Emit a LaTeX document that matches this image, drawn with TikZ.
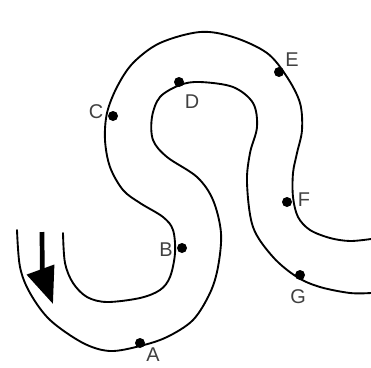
\documentclass[tikz,border=0pt]{standalone}
\usepackage{fontspec}
\setmainfont{Liberation Sans}
\usetikzlibrary{arrows.meta}

\begin{document}
\begin{tikzpicture}[x=0.03cm,y=-0.03cm,
  bank/.style={line width=1.6pt,line cap=round},
  stn/.style={circle,fill=black,inner sep=0pt,minimum size=0.3cm},
  lbl/.style={font=\fontsize{17}{19}\selectfont,text=black!75,inner sep=0pt}]
  \useasboundingbox (0,0) rectangle (371,367);

  % river banks
  \draw[bank] plot[smooth,tension=0.55] coordinates {(17,230) (20,267) (30,293) (50,320) (83,343) (110,351) (140,346) (167,337) (193,320) (210,293) (218,267) (221,233) (213,200) (197,177) (167,157) (153,140) (152,117) (160,97) (180,85) (200,82) (233,87) (253,103) (257,127) (250,153) (247,183) (253,227) (273,257) (297,277) (320,287) (350,293) (371,293)};
  \draw[bank] plot[smooth,tension=0.55] coordinates {(63,233) (65,263) (73,283) (87,297) (107,302) (140,298) (160,290) (170,277) (175,253) (173,230) (163,217) (140,203) (123,190) (110,167) (105,140) (107,113) (117,87) (133,63) (160,43) (200,32) (233,37) (267,53) (287,77) (300,103) (302,130) (297,153) (293,173) (293,197) (298,217) (310,230) (330,238) (350,241) (371,239)};

  % flow direction
  \coordinate (flowtop) at (42,232);
  \coordinate (flowtip) at (53,304);
  \draw[line width=4pt,-{Triangle[length=1.1cm,width=0.85cm]}] (flowtop) to[out=-90,in=110] (flowtip);

  % stations
  \node[stn] (a) at (140,343) {};
  \node[stn] (b) at (182,248) {};
  \node[stn] (c) at (113,116) {};
  \node[stn] (d) at (179,82) {};
  \node[stn] (e) at (279,72) {};
  \node[stn] (f) at (287,202) {};
  \node[stn] (g) at (300,275) {};

  \node[lbl] (la) at (153,355) {A};
  \node[lbl] (lb) at (166,250) {B};
  \node[lbl] (lc) at (96,112) {C};
  \node[lbl] (ld) at (192,102) {D};
  \node[lbl] (le) at (292,60) {E};
  \node[lbl] (lf) at (304,200) {F};
  \node[lbl] (lg) at (298,297) {G};
\end{tikzpicture}
\end{document}
